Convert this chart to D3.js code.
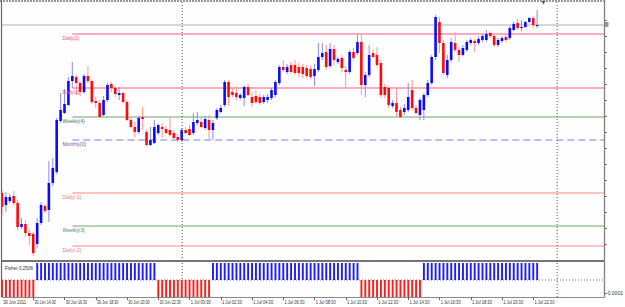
<!DOCTYPE html>
<html><head><meta charset="utf-8">
<script src="https://cdn.jsdelivr.net/npm/d3@7"></script>
<style>
html,body{margin:0;padding:0;background:#fff;overflow:hidden;}
svg{display:block;font-family:"Liberation Sans",Arial,sans-serif;}
</style>
</head><body>
<svg id="chart" width="625" height="307"></svg>
<script>
// ---- DATA (15-minute bars, 30 Jun 2011 12:30 .. 1 Jul 2011 22:45) ----
const opens = [1.4367,1.4355,1.4359,1.4364,1.4357,1.4333,1.4336,1.4327,1.4326,1.4316,
1.4337,1.4354,1.4350,1.4377,1.4388,1.4439,1.4447,1.4455,1.4479,1.4483,
1.4477,1.4468,1.4484,1.4479,1.4459,1.4457,1.4445,1.4460,1.4476,1.4472,
1.4465,1.4467,1.4458,1.4440,1.4433,1.4428,1.4443,1.4428,1.4415,1.4417,
1.4427,1.4433,1.4431,1.4430,1.4427,1.4423,1.4420,1.4430,1.4431,1.4427,
1.4437,1.4438,1.4432,1.4440,1.4430,1.4442,1.4448,1.4455,1.4478,1.4468,
1.4467,1.4462,1.4462,1.4473,1.4463,1.4464,1.4463,1.4458,1.4460,1.4462,
1.4465,1.4477,1.4493,1.4488,1.4495,1.4495,1.4493,1.4493,1.4492,1.4491,
1.4484,1.4490,1.4503,1.4508,1.4494,1.4511,1.4498,1.4502,1.4490,1.4488,
1.4508,1.4507,1.4518,1.4475,1.4485,1.4507,1.4505,1.4497,1.4473,1.4472,
1.4454,1.4457,1.4450,1.4448,1.4450,1.4470,1.4452,1.4445,1.4450,1.4465,
1.4477,1.4503,1.4538,1.4517,1.4485,1.4500,1.4517,1.4510,1.4505,1.4510,
1.4517,1.4519,1.4517,1.4520,1.4520,1.4527,1.4524,1.4515,1.4519,1.4523,
1.4522,1.4530,1.4537,1.4532,1.4533,1.4538,1.4542,1.4534];
const highs = [1.4370,1.4368,1.4366,1.4369,1.4360,1.4342,1.4340,1.4331,1.4328,1.4342,
1.4358,1.4356,1.4399,1.4402,1.4442,1.4467,1.4471,1.4483,1.4498,1.4485,
1.4479,1.4486,1.4494,1.4480,1.4463,1.4460,1.4464,1.4477,1.4478,1.4474,
1.4473,1.4468,1.4460,1.4443,1.4438,1.4444,1.4453,1.4430,1.4433,1.4440,
1.4436,1.4437,1.4434,1.4442,1.4430,1.4426,1.4432,1.4433,1.4435,1.4447,
1.4448,1.4442,1.4444,1.4445,1.4440,1.4452,1.4455,1.4480,1.4480,1.4472,
1.4473,1.4467,1.4475,1.4476,1.4468,1.4470,1.4466,1.4465,1.4466,1.4472,
1.4480,1.4495,1.4500,1.4496,1.4498,1.4500,1.4497,1.4496,1.4495,1.4494,
1.4496,1.4517,1.4517,1.4515,1.4517,1.4515,1.4503,1.4505,1.4494,1.4510,
1.4512,1.4525,1.4525,1.4488,1.4515,1.4510,1.4513,1.4500,1.4476,1.4474,
1.4460,1.4473,1.4453,1.4456,1.4477,1.4480,1.4455,1.4462,1.4467,1.4480,
1.4505,1.4545,1.4543,1.4520,1.4505,1.4522,1.4528,1.4513,1.4515,1.4520,
1.4522,1.4521,1.4524,1.4526,1.4530,1.4529,1.4526,1.4522,1.4524,1.4525,
1.4534,1.4538,1.4541,1.4540,1.4539,1.4543,1.4544,1.4550];
const lows = [1.4345,1.4348,1.4357,1.4355,1.4330,1.4331,1.4324,1.4315,1.4304,1.4312,
1.4335,1.4347,1.4338,1.4374,1.4386,1.4437,1.4446,1.4454,1.4472,1.4465,
1.4464,1.4466,1.4477,1.4456,1.4452,1.4442,1.4444,1.4458,1.4468,1.4463,
1.4460,1.4457,1.4439,1.4432,1.4423,1.4426,1.4430,1.4414,1.4414,1.4416,
1.4425,1.4422,1.4426,1.4424,1.4421,1.4418,1.4418,1.4426,1.4424,1.4425,
1.4435,1.4432,1.4430,1.4421,1.4420,1.4440,1.4447,1.4453,1.4454,1.4463,
1.4460,1.4460,1.4454,1.4464,1.4453,1.4456,1.4455,1.4456,1.4457,1.4460,
1.4463,1.4475,1.4488,1.4486,1.4486,1.4485,1.4483,1.4482,1.4482,1.4481,
1.4474,1.4488,1.4500,1.4490,1.4492,1.4495,1.4496,1.4488,1.4473,1.4486,
1.4500,1.4505,1.4465,1.4463,1.4483,1.4502,1.4493,1.4462,1.4462,1.4452,
1.4452,1.4443,1.4442,1.4445,1.4448,1.4450,1.4446,1.4440,1.4440,1.4463,
1.4475,1.4500,1.4507,1.4485,1.4482,1.4498,1.4508,1.4498,1.4504,1.4508,
1.4515,1.4508,1.4515,1.4518,1.4518,1.4522,1.4513,1.4513,1.4517,1.4518,
1.4520,1.4529,1.4530,1.4529,1.4532,1.4537,1.4532,1.4532];
const closes = [1.4353,1.4363,1.4363,1.4357,1.4333,1.4336,1.4327,1.4324,1.4307,1.4337,
1.4355,1.4349,1.4377,1.4392,1.4440,1.4450,1.4456,1.4479,1.4484,1.4477,
1.4468,1.4484,1.4479,1.4458,1.4457,1.4443,1.4460,1.4475,1.4472,1.4466,
1.4467,1.4458,1.4440,1.4433,1.4428,1.4442,1.4441,1.4415,1.4420,1.4433,
1.4435,1.4431,1.4427,1.4425,1.4422,1.4420,1.4430,1.4427,1.4425,1.4438,
1.4440,1.4433,1.4441,1.4430,1.4437,1.4450,1.4452,1.4478,1.4463,1.4465,
1.4463,1.4465,1.4473,1.4465,1.4457,1.4458,1.4457,1.4463,1.4463,1.4470,
1.4478,1.4493,1.4490,1.4493,1.4488,1.4487,1.4487,1.4486,1.4484,1.4483,
1.4491,1.4503,1.4507,1.4493,1.4511,1.4500,1.4501,1.4492,1.4488,1.4508,
1.4502,1.4518,1.4475,1.4485,1.4505,1.4503,1.4495,1.4465,1.4465,1.4455,
1.4457,1.4448,1.4443,1.4452,1.4463,1.4452,1.4447,1.4460,1.4465,1.4477,
1.4503,1.4543,1.4517,1.4487,1.4500,1.4518,1.4510,1.4505,1.4512,1.4518,
1.4520,1.4517,1.4521,1.4524,1.4526,1.4524,1.4515,1.4520,1.4522,1.4520,
1.4532,1.4536,1.4532,1.4533,1.4538,1.4542,1.4535,1.4535];

const timeLabels = ["30 Jun 2011","30 Jun 14:30","30 Jun 16:30","30 Jun 18:30","30 Jun 20:30","30 Jun 22:30",
"1 Jul 00:30","1 Jul 02:30","1 Jul 04:30","1 Jul 06:30","1 Jul 08:30","1 Jul 10:30",
"1 Jul 12:30","1 Jul 14:30","1 Jul 16:30","1 Jul 18:30","1 Jul 20:30","1 Jul 22:30"];
const timeLabelBars = [0,8,16,24,32,40,48,56,64,72,80,88,96,104,112,120,128,136];
const daySeparatorBars = [46,142];   // 1 Jul 00:00, 2 Jul 00:00

const levelNames  = ["Daily(2)","Daily(1)","Weekly(4)","Monthly(0)","Daily(-1)","Weekly(3)","Daily(-2)"];
const levelValues = [1.4526,1.4472,1.4443,1.4420,1.4367,1.4334,1.4314];
const levelStartBar = 18;
const bidPrice = 1.4535;
const priceTicks = [1.4540,1.4524,1.4508,1.4492,1.4476,1.4460,1.4444,1.4428,1.4412,1.4396,1.4380,1.4364,1.4348,1.4332,1.4316];

// Fisher histogram: runs of sign (values far outside the panel range, drawn clipped)
const fisherRunStart = [0,9,40,54,92,108];
const fisherRunEnd   = [8,39,53,91,107,137];
const fisherRunValue = [-0.25,0.25,-0.25,0.25,-0.25,0.2506];
const fisherLabel = "Fisher 0.2506";
const fisherTickValue = -0.0001;

// ---- LAYOUT / STYLES ----
const W = 625, H = 307;
const L = 2, R = 604, mainTop = 2, mainBot = 259, subTop = 262, subBot = 297;
const nBars = opens.length;
const svg = d3.select("#chart");
svg.append("rect").attr("width",W).attr("height",H).attr("fill","#ffffff");
svg.append("rect").attr("x",L).attr("y",mainTop).attr("width",R-L).attr("height",subBot-mainTop).attr("fill","#fdfefd");

const x = d3.scaleLinear().domain([0, nBars-1]).range([2, 2 + (nBars-1)*3.906]);
const y = d3.scaleLinear().domain([1.4301, 1.4558]).range([mainBot, mainTop]);
const ys = d3.scaleLinear().domain([-0.00013, 0.00013]).range([subBot, subTop+1]);

const levelStyle = {
  "Daily(2)":   {stroke:"#ff8fa8", w:1.6, dash:null, text:"#f0507a"},
  "Daily(1)":   {stroke:"#ff8fa8", w:1.6, dash:null, text:"#f0507a"},
  "Weekly(4)":  {stroke:"#6fa56f", w:1.1, dash:null, text:"#4f704f"},
  "Monthly(0)": {stroke:"#7b7bf5", w:1.1, dash:"7,4", text:"#8a4a9a"},
  "Daily(-1)":  {stroke:"#ffc2c2", w:2.2, dash:null, text:"#f07a7a"},
  "Weekly(3)":  {stroke:"#72aa72", w:1.1, dash:null, text:"#5a865a"},
  "Daily(-2)":  {stroke:"#ff8c8c", w:1.1, dash:null, text:"#f07a7a"}
};

const clip = svg.append("clipPath").attr("id","mainclip").append("rect")
  .attr("x",L).attr("y",mainTop).attr("width",R-L).attr("height",mainBot-mainTop);
const main = svg.append("g").attr("clip-path","url(#mainclip)");

// bid line
main.append("line").attr("x1",L).attr("x2",R).attr("y1",y(bidPrice)).attr("y2",y(bidPrice))
  .attr("stroke","#b0b0b0").attr("stroke-width",1);

// level lines
levelNames.forEach((n,k)=>{
  const s = levelStyle[n], yy = y(levelValues[k]);
  main.append("line").attr("x1",x(levelStartBar)).attr("x2",R).attr("y1",yy).attr("y2",yy)
    .attr("stroke",s.stroke).attr("stroke-width",s.w).attr("stroke-dasharray",s.dash);
});

// day separators (both panels)
daySeparatorBars.forEach(b=>{
  svg.append("line").attr("x1",x(b)+0.5).attr("x2",x(b)+0.5).attr("y1",mainTop).attr("y2",subBot)
    .attr("stroke","#555").attr("stroke-width",1).attr("stroke-dasharray","1,2");
});

// candles
const bars = d3.range(nBars);
main.selectAll("line.wick").data(bars).join("line").attr("class","wick")
  .attr("x1",i=>x(i)).attr("x2",i=>x(i))
  .attr("y1",i=>y(highs[i])).attr("y2",i=>y(lows[i]))
  .attr("stroke",i=>closes[i]>=opens[i]?"#8c8cf2":"#ff9494").attr("stroke-width",1);
main.selectAll("rect.body").data(bars).join("rect").attr("class","body")
  .attr("x",i=>x(i)-1.3).attr("width",2.6)
  .attr("y",i=>y(Math.max(opens[i],closes[i])))
  .attr("height",i=>Math.max(1,Math.abs(y(opens[i])-y(closes[i]))))
  .attr("fill",i=>closes[i]>=opens[i]?"#0a0aff":"#ff0a0a");

// level labels
levelNames.forEach((n,k)=>{
  const s = levelStyle[n];
  svg.append("text").attr("x",62.5).attr("y",y(levelValues[k])+5.5)
    .attr("font-size",5).attr("fill",s.text).text(n);
});

// fisher panel
const sub = svg.append("g");
sub.append("line").attr("x1",L).attr("x2",R).attr("y1",ys(0)).attr("y2",ys(0))
  .attr("stroke","#777").attr("stroke-dasharray","1,2");
const fisherBars = [];
fisherRunStart.forEach((s,k)=>{ for(let i=s;i<=fisherRunEnd[k];i++) fisherBars.push({i, v:fisherRunValue[k]}); });
const clampV = v => Math.max(ys.domain()[0], Math.min(ys.domain()[1], v));
sub.selectAll("rect.fb").data(fisherBars).join("rect").attr("class","fb")
  .attr("x",d=>x(d.i)-0.9).attr("width",1.9)
  .attr("y",d=>Math.min(ys(0),ys(clampV(d.v))))
  .attr("height",d=>Math.abs(ys(clampV(d.v))-ys(0)))
  .attr("fill",d=>d.v>=0?"#1c1cff":"#ff1c1c");
svg.append("text").attr("x",5).attr("y",270).attr("font-size",5).attr("fill","#333")
  .attr("textLength",28).attr("lengthAdjust","spacingAndGlyphs").text(fisherLabel);
svg.append("text").attr("x",606).attr("y",ys(fisherTickValue)+2).attr("font-size",5).attr("fill","#333").text("-0.0001");

// frame
svg.append("line").attr("x1",0).attr("x2",R).attr("y1",1).attr("y2",1).attr("stroke","#777").attr("stroke-width",1.5).attr("stroke-dasharray","2,1");
svg.append("line").attr("x1",1.5).attr("x2",1.5).attr("y1",0).attr("y2",subBot).attr("stroke","#666").attr("stroke-width",1.2);
svg.append("line").attr("x1",R+0.5).attr("x2",R+0.5).attr("y1",0).attr("y2",subBot+0.5).attr("stroke","#808080").attr("stroke-width",1.3);
svg.append("rect").attr("x",L).attr("y",mainBot+1).attr("width",R-L).attr("height",2).attr("fill","#747474");
svg.append("line").attr("x1",L).attr("x2",R).attr("y1",subBot+0.5).attr("y2",subBot+0.5).attr("stroke","#8a8a8a");

// price axis ticks (labels outside the visible window)
svg.selectAll("line.pt").data(priceTicks).join("line").attr("class","pt")
  .attr("x1",R).attr("x2",R+3).attr("y1",d=>Math.round(y(d))+0.5).attr("y2",d=>Math.round(y(d))+0.5)
  .attr("stroke","#777");
svg.append("line").attr("x1",R).attr("x2",R+3).attr("y1",Math.round(ys(fisherTickValue))+0.5).attr("y2",Math.round(ys(fisherTickValue))+0.5).attr("stroke","#777");
// bid price marker
svg.append("rect").attr("x",R+1).attr("y",y(bidPrice)-3).attr("width",3.5).attr("height",5).attr("fill","#9a9a9a");
// chart shift marker
svg.append("path").attr("d",`M${x(138)+0.5},1 L${x(139)+0.5},1 L${x(138.5)+0.5},4.5 Z`).attr("fill","#555");

// time axis
timeLabelBars.forEach((b,k)=>{
  const xx = Math.round(x(b))+0.5;
  if(k>0) svg.append("line").attr("x1",xx).attr("x2",xx).attr("y1",subBot).attr("y2",subBot+3).attr("stroke","#666");
  svg.append("text").attr("x",x(b)+1.2).attr("y",303.5).attr("font-size",5.2).attr("fill","#333")
    .attr("textLength",timeLabels[k].length>11?21.5:(k===0?23:20))
    .attr("lengthAdjust","spacingAndGlyphs").text(timeLabels[k]);
});
</script>
</body></html>
